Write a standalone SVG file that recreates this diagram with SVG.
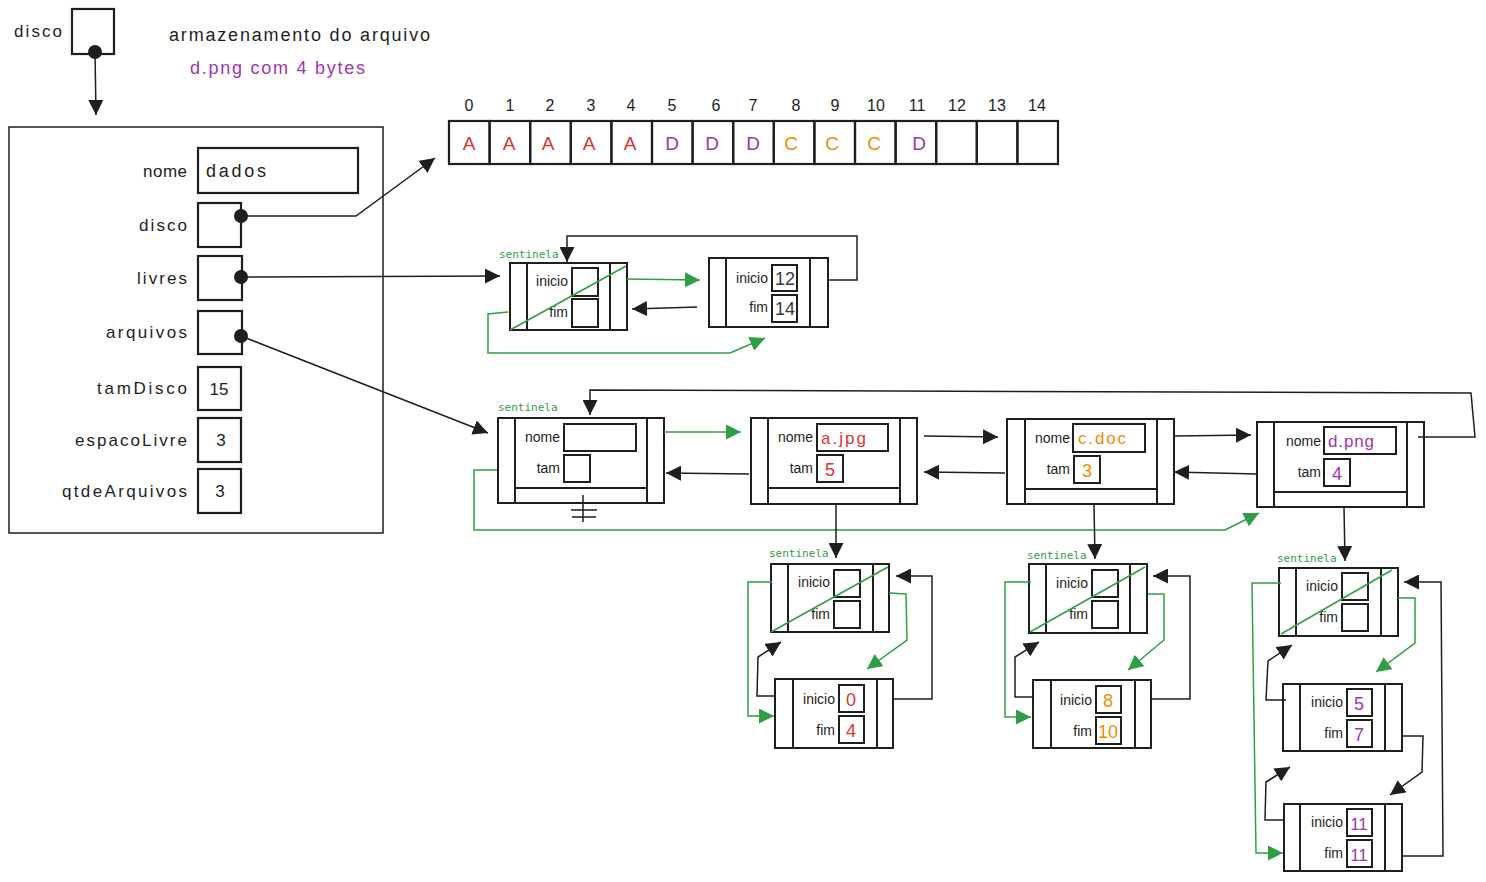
<svg xmlns="http://www.w3.org/2000/svg" width="1486" height="882" viewBox="0 0 1486 882">
<defs>
<style>
.bg{fill:#ffffff}
.n{fill:none;stroke:#1e1e1e;stroke-width:2}
.b{fill:none;stroke:#1e1e1e;stroke-width:2.2}
.c{fill:none;stroke:#1e1e1e;stroke-width:1.5}
.g{fill:none;stroke:#2f9e44;stroke-width:1.5}
.t{font-family:"Liberation Sans",Arial,sans-serif;fill:#1e1e1e}
.lbl{font-size:17px}
.sm{font-size:14px}
.val{font-size:18px}
.sent{font-family:"DejaVu Sans Mono","Liberation Mono",monospace;font-size:11px;fill:#2f9e44}
.red{fill:#e03131}
.pur{fill:#9c36b5}
.org{fill:#f08c00}
.gry{fill:#343a40}
.dot{fill:#1e1e1e}
</style>
<marker id="ab" viewBox="0 0 10 10" refX="10" refY="5" markerWidth="15" markerHeight="15" markerUnits="userSpaceOnUse" orient="auto"><path d="M0,0 L10,5 L0,10 z" fill="#1e1e1e"/></marker>
<marker id="ag" viewBox="0 0 10 10" refX="10" refY="5" markerWidth="15" markerHeight="15" markerUnits="userSpaceOnUse" orient="auto"><path d="M0,0 L10,5 L0,10 z" fill="#2f9e44"/></marker>
</defs>
<rect class="bg" x="0" y="0" width="1486" height="882"/>

<!-- title texts -->
<g id="titles">
<text class="t" x="14" y="37" font-size="17" textLength="48">disco</text>
<text class="t" x="169" y="41" font-size="18" textLength="261">armazenamento do arquivo</text>
<text class="t pur" x="190" y="74" font-size="18" textLength="175">d.png com 4 bytes</text>
</g>

<g id="disco-ptr">
<rect class="b" x="72" y="9" width="42" height="45"/>
<circle class="dot" cx="95" cy="52" r="7"/>
</g>

<!-- main struct -->
<g id="struct">
<rect class="c" x="9" y="127" width="374" height="406"/>
<text class="t lbl" x="143" y="177" textLength="44">nome</text>
<rect class="b" x="198" y="148" width="160" height="45"/>
<text class="t val" x="206" y="177" textLength="60">dados</text>
<text class="t lbl" x="139" y="231" textLength="48">disco</text>
<rect class="b" x="198" y="203" width="43" height="44"/>
<circle class="dot" cx="241" cy="216" r="7"/>
<text class="t lbl" x="137" y="284" textLength="50">livres</text>
<rect class="b" x="198" y="256" width="44" height="44"/>
<circle class="dot" cx="241" cy="277" r="7"/>
<text class="t lbl" x="106" y="338" textLength="81">arquivos</text>
<rect class="b" x="198" y="311" width="44" height="43"/>
<circle class="dot" cx="241" cy="336" r="7"/>
<text class="t lbl" x="97" y="394" textLength="90">tamDisco</text>
<rect class="b" x="198" y="367" width="43" height="43"/>
<text class="t lbl" x="219" y="395" text-anchor="middle">15</text>
<text class="t lbl" x="75" y="446" textLength="112">espacoLivre</text>
<rect class="b" x="198" y="418" width="43" height="44"/>
<text class="t lbl" x="221" y="446" text-anchor="middle">3</text>
<text class="t lbl" x="62" y="497" textLength="125">qtdeArquivos</text>
<rect class="b" x="198" y="469" width="43" height="44"/>
<text class="t lbl" x="220" y="497" text-anchor="middle">3</text>
</g>

<!-- disk array -->
<g id="disk">
<g class="t" font-size="16" text-anchor="middle">
<text x="469" y="111">0</text><text x="510" y="111">1</text><text x="550" y="111">2</text><text x="591" y="111">3</text><text x="631" y="111">4</text>
<text x="672" y="111">5</text><text x="716" y="111">6</text><text x="753" y="111">7</text><text x="796" y="111">8</text><text x="835" y="111">9</text>
<text x="876" y="111">10</text><text x="917" y="111">11</text><text x="957" y="111">12</text><text x="997" y="111">13</text><text x="1037" y="111">14</text>
</g>
<rect class="b" x="449" y="121" width="40.6" height="43"/>
<rect class="b" x="489.6" y="121" width="40.6" height="43"/>
<rect class="b" x="530.2" y="121" width="40.6" height="43"/>
<rect class="b" x="570.8" y="121" width="40.6" height="43"/>
<rect class="b" x="611.4" y="121" width="40.6" height="43"/>
<rect class="b" x="652" y="121" width="40.6" height="43"/>
<rect class="b" x="692.6" y="121" width="40.6" height="43"/>
<rect class="b" x="733.2" y="121" width="40.6" height="43"/>
<rect class="b" x="773.8" y="121" width="40.6" height="43"/>
<rect class="b" x="814.4" y="121" width="40.6" height="43"/>
<rect class="b" x="855" y="121" width="40.6" height="43"/>
<rect class="b" x="895.6" y="121" width="40.6" height="43"/>
<rect class="b" x="936.2" y="121" width="40.6" height="43"/>
<rect class="b" x="976.8" y="121" width="40.6" height="43"/>
<rect class="b" x="1017.4" y="121" width="40.6" height="43"/>
<g class="t" font-size="19" text-anchor="middle">
<text class="red" x="469" y="150">A</text><text class="red" x="509" y="150">A</text><text class="red" x="548" y="150">A</text><text class="red" x="589" y="150">A</text><text class="red" x="630" y="150">A</text>
<text class="pur" x="672" y="150">D</text><text class="pur" x="712" y="150">D</text><text class="pur" x="753" y="150">D</text>
<text class="org" x="791" y="150">C</text><text class="org" x="832" y="150">C</text><text class="org" x="874" y="150">C</text>
<text class="pur" x="919" y="150">D</text>
</g>
</g>

<!-- free list -->
<g id="livre-sent">
<text class="sent" x="499" y="258">sentinela</text>
<rect class="n" x="510" y="263" width="117" height="67"/>
<line class="n" x1="527" y1="263" x2="527" y2="330"/>
<line class="n" x1="610" y1="263" x2="610" y2="330"/>
<text class="t sm" x="568" y="286" text-anchor="end">inicio</text>
<rect class="n" x="572" y="268" width="26" height="28"/>
<text class="t sm" x="568" y="317" text-anchor="end">fim</text>
<rect class="n" x="572" y="299" width="26" height="28"/>
<line class="g" x1="510" y1="330" x2="626" y2="266"/>
</g>
<g id="livre-1">
<rect class="n" x="709" y="258" width="119" height="69"/>
<line class="n" x1="726" y1="258" x2="726" y2="327"/>
<line class="n" x1="810" y1="258" x2="810" y2="327"/>
<text class="t sm" x="768" y="283" text-anchor="end">inicio</text>
<rect class="n" x="772" y="265" width="25" height="26"/>
<text class="t val gry" x="785" y="285" text-anchor="middle">12</text>
<text class="t sm" x="768" y="312" text-anchor="end">fim</text>
<rect class="n" x="772" y="295" width="25" height="27"/>
<text class="t val gry" x="785" y="315" text-anchor="middle">14</text>
</g>

<!-- file list -->
<g id="arq-sent">
<text class="sent" x="498" y="411">sentinela</text>
<rect class="n" x="498" y="418" width="166" height="85"/>
<line class="n" x1="515" y1="418" x2="515" y2="503"/>
<line class="n" x1="647" y1="418" x2="647" y2="503"/>
<line class="n" x1="515" y1="488" x2="647" y2="488"/>
<text class="t sm" x="560" y="442" text-anchor="end">nome</text>
<rect class="n" x="564" y="424" width="72" height="27"/>
<text class="t sm" x="560" y="473" text-anchor="end">tam</text>
<rect class="n" x="564" y="455" width="26" height="27"/>
<line class="c" x1="583" y1="495" x2="583" y2="522"/>
<line class="c" x1="571" y1="510" x2="597" y2="510"/>
<line class="c" x1="572" y1="517" x2="596" y2="517"/>
</g>
<g id="arq-a">
<rect class="n" x="751" y="418" width="166" height="86"/>
<line class="n" x1="768" y1="418" x2="768" y2="504"/>
<line class="n" x1="900" y1="418" x2="900" y2="504"/>
<line class="n" x1="768" y1="488" x2="900" y2="488"/>
<text class="t sm" x="813" y="442" text-anchor="end">nome</text>
<rect class="n" x="817" y="424" width="71" height="27"/>
<text class="t red" x="821" y="444" font-size="17" textLength="45">a.jpg</text>
<text class="t sm" x="813" y="473" text-anchor="end">tam</text>
<rect class="n" x="817" y="455" width="26" height="27"/>
<text class="t red" x="830" y="476" font-size="18" text-anchor="middle">5</text>
</g>
<g id="arq-c">
<rect class="n" x="1007" y="419" width="167" height="85"/>
<line class="n" x1="1025" y1="419" x2="1025" y2="504"/>
<line class="n" x1="1157" y1="419" x2="1157" y2="504"/>
<line class="n" x1="1025" y1="489" x2="1157" y2="489"/>
<text class="t sm" x="1070" y="443" text-anchor="end">nome</text>
<rect class="n" x="1073" y="424" width="72" height="28"/>
<text class="t org" x="1078" y="444" font-size="17" textLength="48">c.doc</text>
<text class="t sm" x="1070" y="474" text-anchor="end">tam</text>
<rect class="n" x="1074" y="456" width="26" height="27"/>
<text class="t org" x="1087" y="477" font-size="18" text-anchor="middle">3</text>
</g>
<g id="arq-d">
<rect class="n" x="1257" y="422" width="167" height="85"/>
<line class="n" x1="1274" y1="422" x2="1274" y2="507"/>
<line class="n" x1="1407" y1="422" x2="1407" y2="507"/>
<line class="n" x1="1274" y1="492" x2="1407" y2="492"/>
<text class="t sm" x="1321" y="446" text-anchor="end">nome</text>
<rect class="n" x="1324" y="427" width="72" height="27"/>
<text class="t pur" x="1328" y="447" font-size="17" textLength="46">d.png</text>
<text class="t sm" x="1321" y="477" text-anchor="end">tam</text>
<rect class="n" x="1324" y="459" width="26" height="27"/>
<text class="t pur" x="1337" y="480" font-size="18" text-anchor="middle">4</text>
</g>

<!-- a.jpg blocks -->
<g id="a-sent">
<text class="sent" x="769" y="557">sentinela</text>
<rect class="n" x="771" y="564" width="118" height="68"/>
<line class="n" x1="788" y1="564" x2="788" y2="632"/>
<line class="n" x1="873" y1="564" x2="873" y2="632"/>
<text class="t sm" x="830" y="587" text-anchor="end">inicio</text>
<rect class="n" x="834" y="570" width="26" height="27"/>
<text class="t sm" x="830" y="619" text-anchor="end">fim</text>
<rect class="n" x="834" y="601" width="26" height="27"/>
<line class="g" x1="771" y1="632" x2="888" y2="567"/>
</g>
<g id="a-b1">
<rect class="n" x="775" y="679" width="118" height="69"/>
<line class="n" x1="793" y1="679" x2="793" y2="748"/>
<line class="n" x1="877" y1="679" x2="877" y2="748"/>
<text class="t sm" x="835" y="704" text-anchor="end">inicio</text>
<rect class="n" x="839" y="685" width="25" height="27"/>
<text class="t red" x="851" y="706" font-size="18" text-anchor="middle">0</text>
<text class="t sm" x="835" y="735" text-anchor="end">fim</text>
<rect class="n" x="839" y="716" width="25" height="27"/>
<text class="t red" x="851" y="737" font-size="18" text-anchor="middle">4</text>
</g>

<!-- c.doc blocks -->
<g id="c-sent">
<text class="sent" x="1027" y="559">sentinela</text>
<rect class="n" x="1029" y="564" width="118" height="69"/>
<line class="n" x1="1046" y1="564" x2="1046" y2="633"/>
<line class="n" x1="1130" y1="564" x2="1130" y2="633"/>
<text class="t sm" x="1088" y="588" text-anchor="end">inicio</text>
<rect class="n" x="1092" y="570" width="26" height="27"/>
<text class="t sm" x="1088" y="619" text-anchor="end">fim</text>
<rect class="n" x="1092" y="601" width="26" height="27"/>
<line class="g" x1="1030" y1="632" x2="1145" y2="567"/>
</g>
<g id="c-b1">
<rect class="n" x="1033" y="680" width="118" height="68"/>
<line class="n" x1="1051" y1="680" x2="1051" y2="748"/>
<line class="n" x1="1135" y1="680" x2="1135" y2="748"/>
<text class="t sm" x="1092" y="705" text-anchor="end">inicio</text>
<rect class="n" x="1096" y="686" width="25" height="27"/>
<text class="t org" x="1108" y="707" font-size="18" text-anchor="middle">8</text>
<text class="t sm" x="1092" y="736" text-anchor="end">fim</text>
<rect class="n" x="1096" y="717" width="25" height="27"/>
<text class="t org" x="1108" y="738" font-size="18" text-anchor="middle">10</text>
</g>

<!-- d.png blocks -->
<g id="d-sent">
<text class="sent" x="1277" y="562">sentinela</text>
<rect class="n" x="1279" y="568" width="119" height="68"/>
<line class="n" x1="1296" y1="568" x2="1296" y2="636"/>
<line class="n" x1="1381" y1="568" x2="1381" y2="636"/>
<text class="t sm" x="1338" y="591" text-anchor="end">inicio</text>
<rect class="n" x="1342" y="573" width="26" height="27"/>
<text class="t sm" x="1338" y="622" text-anchor="end">fim</text>
<rect class="n" x="1342" y="604" width="26" height="27"/>
<line class="g" x1="1281" y1="634" x2="1392" y2="570"/>
</g>
<g id="d-b1">
<rect class="n" x="1283" y="684" width="119" height="67"/>
<line class="n" x1="1300" y1="684" x2="1300" y2="751"/>
<line class="n" x1="1385" y1="684" x2="1385" y2="751"/>
<text class="t sm" x="1343" y="707" text-anchor="end">inicio</text>
<rect class="n" x="1347" y="689" width="25" height="27"/>
<text class="t pur" x="1359" y="710" font-size="18" text-anchor="middle">5</text>
<text class="t sm" x="1343" y="738" text-anchor="end">fim</text>
<rect class="n" x="1347" y="720" width="25" height="27"/>
<text class="t pur" x="1359" y="741" font-size="18" text-anchor="middle">7</text>
</g>
<g id="d-b2">
<rect class="n" x="1284" y="804" width="118" height="67"/>
<line class="n" x1="1300" y1="804" x2="1300" y2="871"/>
<line class="n" x1="1385" y1="804" x2="1385" y2="871"/>
<text class="t sm" x="1343" y="827" text-anchor="end">inicio</text>
<rect class="n" x="1347" y="809" width="25" height="27"/>
<text class="t pur" x="1359" y="830" font-size="17" text-anchor="middle">11</text>
<text class="t sm" x="1343" y="858" text-anchor="end">fim</text>
<rect class="n" x="1347" y="840" width="25" height="27"/>
<text class="t pur" x="1359" y="861" font-size="17" text-anchor="middle">11</text>
</g>

<!-- connectors -->
<g id="connectors">
<path class="c" d="M95,52 L96,115" marker-end="url(#ab)"/>
<path class="c" d="M241,216 L356,216 L435,158" marker-end="url(#ab)"/>
<path class="c" d="M241,277 L500,276" marker-end="url(#ab)"/>
<path class="c" d="M241,336 L488,433" marker-end="url(#ab)"/>

<!-- free list -->
<path class="g" d="M627,279 L700,280" marker-end="url(#ag)"/>
<path class="c" d="M697,307 L632,309" marker-end="url(#ab)"/>
<path class="c" d="M828,280 L857,280 L857,236 L567,236 L567,262" marker-end="url(#ab)"/>
<path class="g" d="M508,312 L488,314 L488,353 L730,353 L765,338" marker-end="url(#ag)"/>

<!-- file list -->
<path class="g" d="M664,432 L741,432" marker-end="url(#ag)"/>
<path class="c" d="M749,474 L666,473" marker-end="url(#ab)"/>
<path class="c" d="M924,436 L998,437" marker-end="url(#ab)"/>
<path class="c" d="M1005,473 L924,472" marker-end="url(#ab)"/>
<path class="c" d="M1175,436 L1251,435" marker-end="url(#ab)"/>
<path class="c" d="M1257,474 L1174,472" marker-end="url(#ab)"/>
<path class="c" d="M1418,437 L1475,437 L1471,393 L590,390 L590,415" marker-end="url(#ab)"/>
<path class="g" d="M497,470 L474,470 L474,530 L1225,530 L1259,513" marker-end="url(#ag)"/>

<path class="c" d="M836,504 L836,558" marker-end="url(#ab)"/>
<path class="c" d="M1094,505 L1095,559" marker-end="url(#ab)"/>
<path class="c" d="M1344,507 L1345,561" marker-end="url(#ab)"/>

<!-- a.jpg blocks -->
<path class="c" d="M893,699 L932,699 L932,576 L896,576" marker-end="url(#ab)"/>
<path class="g" d="M889,593 L906,594 L907,640 L867,669" marker-end="url(#ag)"/>
<path class="c" d="M776,696 L757,696 L758,657 L781,642" marker-end="url(#ab)"/>
<path class="g" d="M772,582 L748,582 L748,716 L774,716" marker-end="url(#ag)"/>

<!-- c.doc blocks -->
<path class="c" d="M1151,699 L1190,699 L1190,576 L1153,576" marker-end="url(#ab)"/>
<path class="g" d="M1148,594 L1164,594 L1164,640 L1128,670" marker-end="url(#ag)"/>
<path class="c" d="M1033,697 L1015,697 L1015,657 L1039,642" marker-end="url(#ab)"/>
<path class="g" d="M1031,582 L1005,582 L1005,717 L1031,717" marker-end="url(#ag)"/>

<!-- d.png blocks -->
<path class="g" d="M1398,598 L1415,598 L1415,643 L1376,672" marker-end="url(#ag)"/>
<path class="c" d="M1286,700 L1266,700 L1268,661 L1292,645" marker-end="url(#ab)"/>
<path class="c" d="M1402,736 L1423,736 L1422,772 L1390,795" marker-end="url(#ab)"/>
<path class="c" d="M1285,820 L1265,820 L1266,782 L1290,767" marker-end="url(#ab)"/>
<path class="c" d="M1402,856 L1443,856 L1441,582 L1404,582" marker-end="url(#ab)"/>
<path class="g" d="M1281,583 L1252,583 L1256,853 L1283,853" marker-end="url(#ag)"/>
</g>
</svg>
